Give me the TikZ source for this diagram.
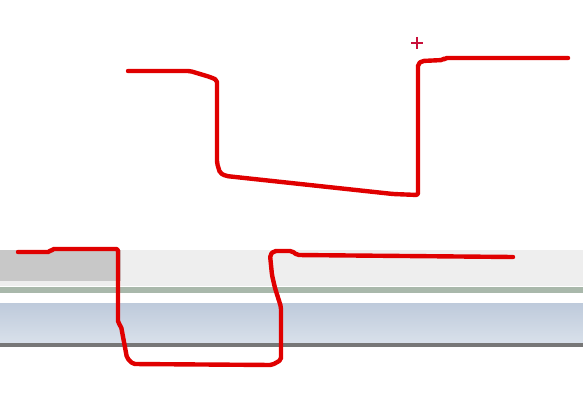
\documentclass[tikz,border=0pt]{standalone}
\usepackage{tikz}

\definecolor{bardark}{HTML}{C8C8C8}
\definecolor{barlight}{HTML}{EEEEEE}
\definecolor{barrule}{HTML}{A9B8AB}
\definecolor{bandtop}{HTML}{BECADB}
\definecolor{bandbot}{HTML}{D8E0EA}
\definecolor{baredge}{HTML}{777777}
\definecolor{inkred}{HTML}{E00000}
\definecolor{crossred}{HTML}{C8103A}

\begin{document}
\begin{tikzpicture}[
    x=1pt, y=-1pt,
    stroke/.style={draw=inkred, line width=4.4pt, line cap=round, line join=round, rounded corners=2pt},
    cursor/.style={draw=crossred, line width=2.6pt},
]
\useasboundingbox (0,0) rectangle (583,404);
\fill[white] (0,0) rectangle (583,404);

% window bars
\fill[barlight] (0,250) rectangle (583,286);
\fill[bardark] (0,250) rectangle (121,281);
\fill[barrule] (0,287) rectangle (583,293);
\fill[top color=bandtop, bottom color=bandbot] (0,303) rectangle (583,342);
\fill[baredge] (0,343) rectangle (583,347);

% upper trace
\draw[stroke] (128,71) -- (190,71) -- (200,74) -- (210,77) -- (217,80)
    -- (217,163) -- (220,173) -- (226,176) -- (393,194) -- (418,195)
    -- (418,64) -- (422,61) -- (443,60) -- (445,58) -- (568,58);
\draw[cursor] (411,43) -- (423,43) (417,37) -- (417,49);

% lower trace
\draw[stroke] (18,252) -- (50,252) -- (52,249) -- (118,249)
    -- (118,323) -- (121,326) -- (127,358) -- (133,364) -- (272,365)
    -- (281,360) -- (281,307) -- (275,288) -- (272,275) -- (270,255)
    -- (274,251) -- (292,251) -- (297,255) -- (513,257);
\end{tikzpicture}
\end{document}
